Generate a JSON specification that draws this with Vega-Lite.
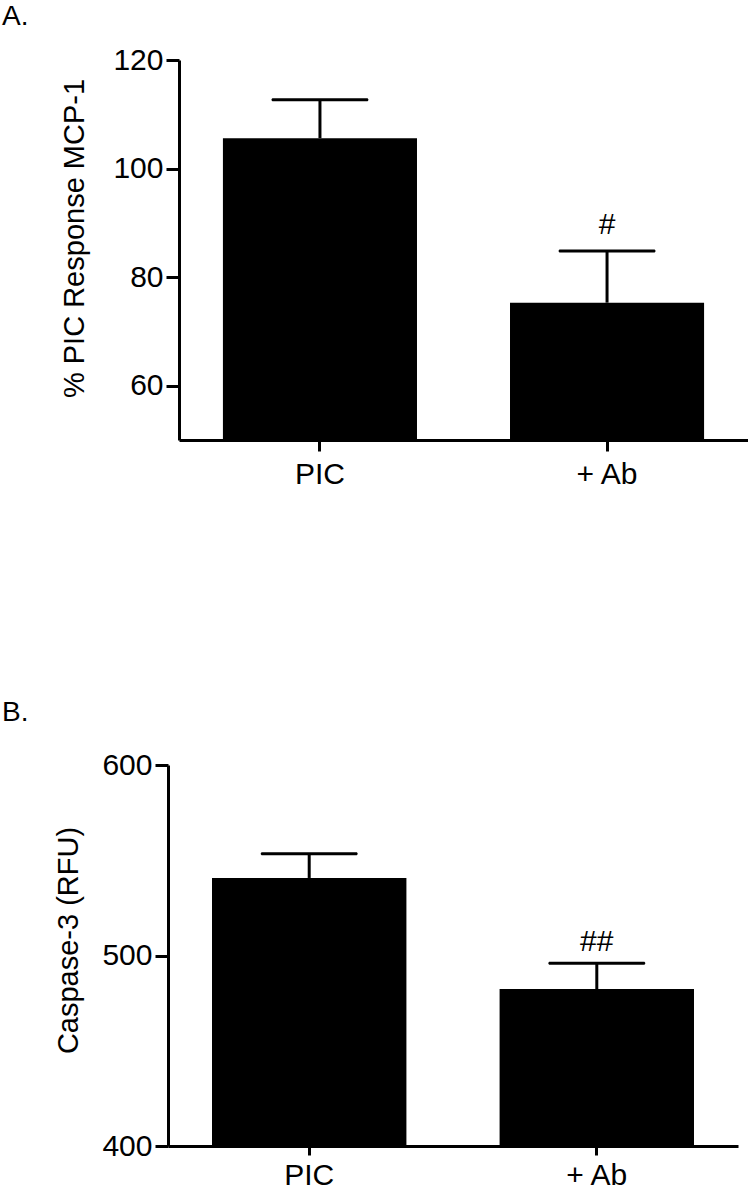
{
  "$schema": "https://vega.github.io/schema/vega-lite/v6.json",
  "padding": {"left": 2, "top": 3, "right": 0, "bottom": 0},
  "background": "white",
  "spacing": 210,
  "datasets": {
    "a": [
      {"group": "PIC", "mean": 105.6, "upper": 112.7, "sig": ""},
      {"group": "+ Ab", "mean": 75.3, "upper": 84.8, "sig": "#"}
    ],
    "b": [
      {"group": "PIC", "mean": 540.7, "upper": 553.4, "sig": ""},
      {"group": "+ Ab", "mean": 482.4, "upper": 495.9, "sig": "##"}
    ]
  },
  "config": {
    "view": {"stroke": null},
    "font": "Liberation Sans",
    "axis": {
      "grid": false,
      "domainColor": "black",
      "domainWidth": 3,
      "tickColor": "black",
      "tickWidth": 3,
      "labelColor": "black",
      "labelFont": "Liberation Sans",
      "labelFontSize": 30,
      "titleFont": "Liberation Sans",
      "titleFontSize": 29,
      "titleFontWeight": "normal",
      "titleColor": "black"
    },
    "title": {"font": "Liberation Sans", "fontSize": 28, "fontWeight": "normal", "color": "black"}
  },
  "vconcat": [
    {
      "width": 580,
      "height": 380,
      "title": {"text": "A.", "anchor": "start", "frame": "group", "dx": -166, "dy": 28, "offset": 20, "baseline": "alphabetic"},
      "data": {"name": "a"},
      "encoding": {
        "x": {
          "field": "group", "type": "nominal", "sort": null,
          "scale": {"range": [11, 580], "paddingInner": 0.324, "paddingOuter": 0.153},
          "axis": {"title": null, "labelAngle": 0, "tickSize": 11, "labelPadding": 8}
        }
      },
      "layer": [
        {
          "mark": {"type": "bar", "color": "black"},
          "encoding": {
            "y": {
              "field": "mean", "type": "quantitative",
              "scale": {"domain": [50, 120], "zero": false, "nice": false},
              "axis": {"values": [60, 80, 100, 120], "offset": -11, "tickSize": 13, "labelPadding": 3, "title": "% PIC Response MCP-1", "titleX": -90, "titleY": 178}
            },
            "y2": {"datum": 50}
          }
        },
        {
          "mark": {"type": "rule", "color": "black", "strokeWidth": 3},
          "encoding": {"y": {"field": "mean", "type": "quantitative"}, "y2": {"field": "upper"}}
        },
        {
          "mark": {"type": "tick", "color": "black", "opacity": 1, "size": 97, "thickness": 3, "cornerRadius": 1.5},
          "encoding": {"y": {"field": "upper", "type": "quantitative"}}
        },
        {
          "mark": {"type": "text", "color": "black", "fontSize": 30, "baseline": "alphabetic", "dy": -17},
          "encoding": {"y": {"field": "upper", "type": "quantitative"}, "text": {"field": "sig"}}
        }
      ]
    },
    {
      "width": 570,
      "height": 381,
      "title": {"text": "B.", "anchor": "start", "frame": "group", "dx": -166, "dy": 28, "offset": 29, "baseline": "alphabetic"},
      "data": {"name": "b"},
      "encoding": {
        "x": {
          "field": "group", "type": "nominal", "sort": null,
          "scale": {"paddingInner": 0.324, "paddingOuter": 0.153},
          "axis": {"title": null, "labelAngle": 0, "tickSize": 9, "labelPadding": 5}
        }
      },
      "layer": [
        {
          "mark": {"type": "bar", "color": "black"},
          "encoding": {
            "y": {
              "field": "mean", "type": "quantitative",
              "scale": {"domain": [400, 600], "zero": false, "nice": false},
              "axis": {"values": [400, 500, 600], "tickSize": 13, "labelPadding": 3, "title": "Caspase-3 (RFU)", "titleX": -85, "titleY": 175}
            },
            "y2": {"datum": 400}
          }
        },
        {
          "mark": {"type": "rule", "color": "black", "strokeWidth": 3},
          "encoding": {"y": {"field": "mean", "type": "quantitative"}, "y2": {"field": "upper"}}
        },
        {
          "mark": {"type": "tick", "color": "black", "opacity": 1, "size": 97, "thickness": 3, "cornerRadius": 1.5},
          "encoding": {"y": {"field": "upper", "type": "quantitative"}}
        },
        {
          "mark": {"type": "text", "color": "black", "fontSize": 30, "baseline": "alphabetic", "dy": -12},
          "encoding": {"y": {"field": "upper", "type": "quantitative"}, "text": {"field": "sig"}}
        }
      ]
    }
  ]
}
